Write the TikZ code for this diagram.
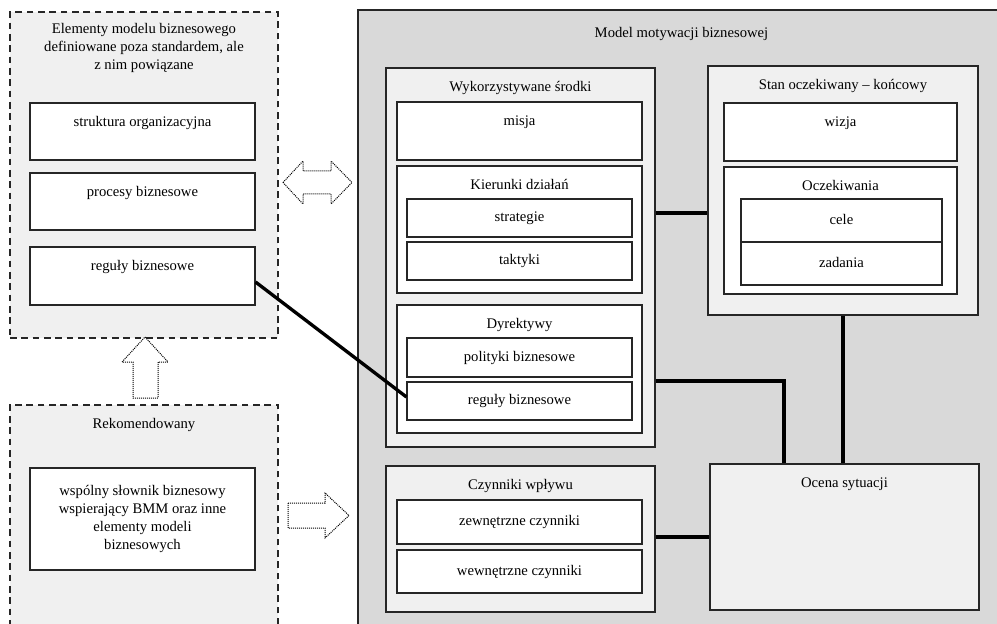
\documentclass[tikz,border=0pt]{standalone}
\usepackage{fontspec}
\setmainfont{Liberation Serif}
\usetikzlibrary{fit}
\definecolor{modelgray}{RGB}{217,217,217}
\definecolor{boxgray}{RGB}{240,240,240}

\begin{document}
\begin{tikzpicture}
  [x=0.75pt,y=-0.75pt,font=\fontsize{11}{13.6}\selectfont,
   frame/.style={draw=black!85,line width=0.8pt,inner sep=0pt,fill=#1},
   frame/.default=white,
   ext/.style={draw=black!85,line width=1.1pt,dash pattern=on 5pt off 3.5pt,inner sep=0pt,fill=boxgray},
   toptext/.style={label={[anchor=base,yshift=-18pt]north:#1}},
   midtext/.style={label={[text height=1.6ex,text depth=.4ex]center:#1}},
   link/.style={line width=2.5pt},
   hollow/.style={draw,line width=0.75pt,dash pattern=on 0.75pt off 0.75pt,fill=white}]

  \clip (0,0) rectangle (997,624);

  % poza standardem
  \node[ext,fit={(10,12) (278,338)},label={[anchor=north,inner sep=0pt,yshift=-8.5pt,align=center]north:Elementy modelu biznesowego\\definiowane poza standardem, ale\\z nim powiązane}] (elem) {};
  \node[frame,fit={(30,103) (255,160)},toptext={struktura organizacyjna}] (struk) {};
  \node[frame,fit={(30,173) (255,230)},toptext={procesy biznesowe}] (proc) {};
  \node[frame,fit={(30,247) (255,305)},toptext={reguły biznesowe}] (regL) {};

  \node[ext,fit={(10,405) (278,640)},toptext={Rekomendowany}] (rekom) {};
  \node[frame,fit={(30,468) (255,570)},label={[align=center]center:wspólny słownik biznesowy\\wspierający BMM oraz inne\\elementy modeli\\biznesowych}] (slow) {};

  % BMM
  \node[frame=modelgray,fit={(358,10) (1005,640)},label={[anchor=base,yshift=-21pt]north:Model motywacji biznesowej}] (model) {};

  \node[frame=boxgray,fit={(386,68) (655,447)},toptext={Wykorzystywane środki}] (srodki) {};
  \node[frame,fit={(397,102) (642,160)},toptext={misja}] (misja) {};
  \node[frame,fit={(397,166) (642,293)},toptext={Kierunki działań}] (kier) {};
  \node[frame,fit={(407,199) (632,237)},midtext={strategie}] (strat) {};
  \node[frame,fit={(407,242) (632,280)},midtext={taktyki}] (takt) {};
  \node[frame,fit={(397,305) (642,433)},toptext={Dyrektywy}] (dyr) {};
  \node[frame,fit={(407,338) (632,377)},midtext={polityki biznesowe}] (polit) {};
  \node[frame,fit={(407,382) (632,420)},midtext={reguły biznesowe}] (regR) {};

  \node[frame=boxgray,fit={(386,466) (655,612)},toptext={Czynniki wpływu}] (czyn) {};
  \node[frame,fit={(397,500) (642,544)},midtext={zewnętrzne czynniki}] (zewn) {};
  \node[frame,fit={(397,550) (642,593)},midtext={wewnętrzne czynniki}] (wewn) {};

  \node[frame=boxgray,fit={(708,66) (978,315)},toptext={Stan oczekiwany -- końcowy}] (stan) {};
  \node[frame,fit={(724,103) (957,161)},toptext={wizja}] (wizja) {};
  \node[frame,fit={(724,167) (957,294)},toptext={Oczekiwania}] (ocz) {};
  \node[frame,fit={(741,199) (942,242)},midtext={cele}] (cele) {};
  \node[frame,fit={(741,242) (942,285)},midtext={zadania}] (zad) {};

  \node[frame=boxgray,fit={(710,464) (979,610)},toptext={Ocena sytuacji}] (ocena) {};

  % polaczenia
  \coordinate (k1) at (0,213);
  \coordinate (k2) at (0,381);
  \coordinate (k3) at (784,0);
  \coordinate (k4) at (0,537);

  \draw[link] (srodki.east |- k1) -- (stan.west |- k1);
  \draw[link] (stan.south) -- (stan.south |- ocena.north);
  \draw[link] (srodki.east |- k2) -| (ocena.north -| k3);
  \draw[link] (czyn.east |- k4) -- (ocena.west |- k4);
  \draw[link] ([yshift=-4.5pt]regL.east) -- ([yshift=3pt]regR.west);

  % strzalki
  \draw[hollow] (283,182.5) -- (303,161) -- (303,171) -- (331,171) -- (331,161) -- (352,182.5)
    -- (331,204) -- (331,194) -- (303,194) -- (303,204) -- cycle;
  \draw[hollow] (145,337) -- (168,362) -- (158,362) -- (158,398) -- (133,398) -- (133,362) -- (122,362) -- cycle;
  \draw[hollow] (288,503) -- (325,503) -- (325,493) -- (349,515.5) -- (325,538) -- (325,528) -- (288,528) -- cycle;

\end{tikzpicture}
\end{document}
